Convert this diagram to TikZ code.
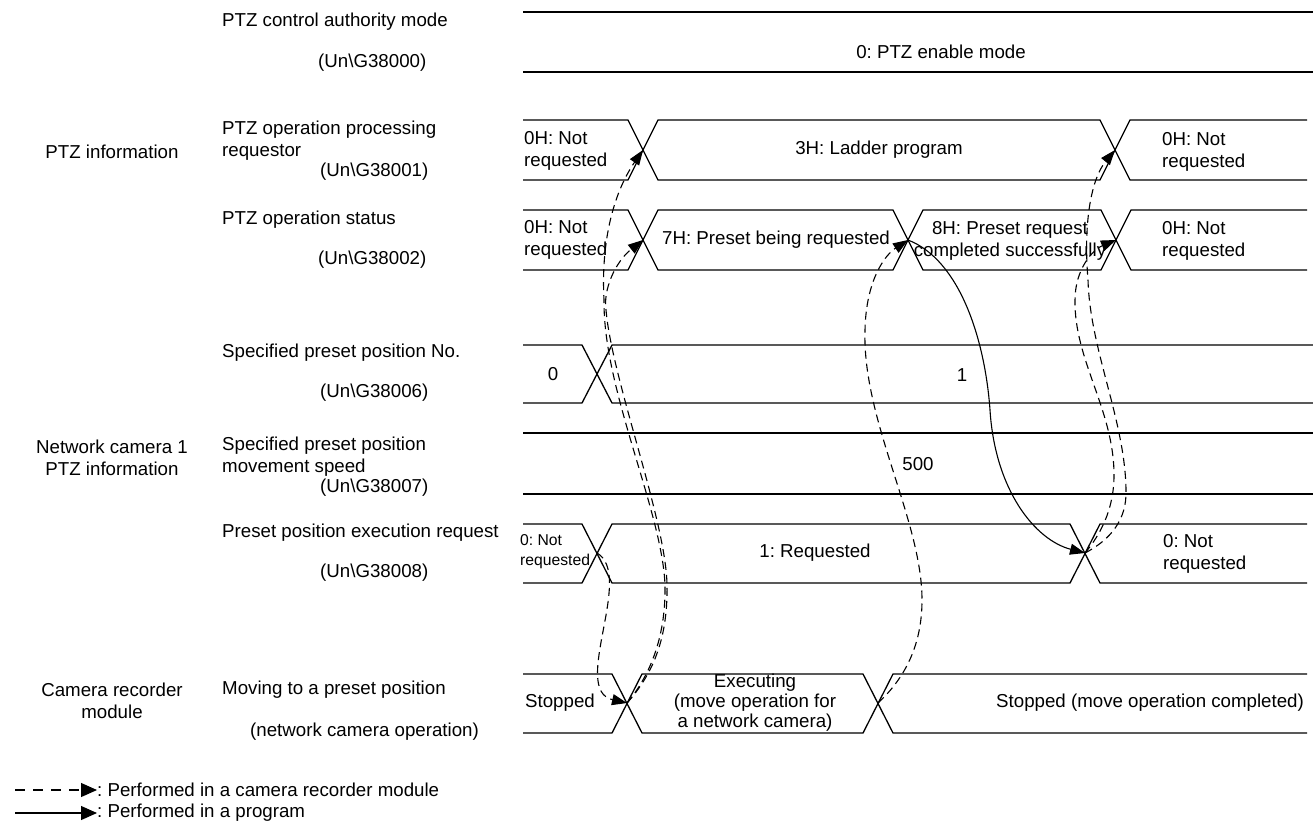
\documentclass[tikz,border=0pt]{standalone}
\usepackage{fontspec}
\setmainfont{Liberation Sans}
\usetikzlibrary{arrows.meta}

\newcommand{\sigfont}{\fontsize{18.7}{22}\selectfont}
\frenchspacing

\begin{document}
\begin{tikzpicture}[x=1pt,y=-1pt,
  bus/.style={line width=1.3pt},
  cam/.style={line width=1.1pt,dash pattern=on 8pt off 5pt,-{Triangle[length=15pt,width=11pt]}},
  prg/.style={line width=1.1pt,-{Triangle[length=15pt,width=11pt]}},
  lbl/.style={anchor=west,inner sep=0pt,align=left,font=\sigfont},
  grp/.style={inner sep=0pt,align=center,font=\sigfont},
  val/.style={inner sep=0pt,align=center,font=\sigfont},
  lval/.style={anchor=west,inner sep=0pt,align=left,font=\sigfont}
]
  \useasboundingbox (0,0) rectangle (1313,828);

  % group labels
  \node[grp] (gptz) at (112,152) {PTZ information};
  \node[grp] (gcam) at (112,458) {Network camera 1\\PTZ information};
  \node[grp] (grec) at (112,701) {Camera recorder\\module};

  % signal names
  \node[lbl] (n0) at (222,22) {PTZ control authority mode};
  \node[lbl] (d0) at (318,63) {(Un\textbackslash G38000)};
  \node[lbl] (n1) at (222,141) {PTZ operation processing\\requestor};
  \node[lbl] (d1) at (320,172) {(Un\textbackslash G38001)};
  \node[lbl] (n2) at (222,220) {PTZ operation status};
  \node[lbl] (d2) at (318,260) {(Un\textbackslash G38002)};
  \node[lbl] (n3) at (222,353) {Specified preset position No.};
  \node[lbl] (d3) at (320,393) {(Un\textbackslash G38006)};
  \node[lbl] (n4) at (222,457) {Specified preset position\\movement speed};
  \node[lbl] (d4) at (320,488) {(Un\textbackslash G38007)};
  \node[lbl] (n5) at (222,533) {Preset position execution request};
  \node[lbl] (d5) at (320,573) {(Un\textbackslash G38008)};
  \node[lbl] (n6) at (222,690) {Moving to a preset position};
  \node[lbl] (d6) at (250,732) {(network camera operation)};

  % crossing points
  \coordinate (x1a) at (643,150);
  \coordinate (x1b) at (1115,150);
  \coordinate (x2a) at (643,240);
  \coordinate (x2b) at (908,240);
  \coordinate (x2c) at (1116,240);
  \coordinate (x5a) at (597,553);
  \coordinate (x5b) at (1085,553);
  \coordinate (x6a) at (627,703);
  \coordinate (x6b) at (878,703);

  % control authority mode
  \draw[bus] (523,12) -- (1313,12);
  \draw[bus] (523,72) -- (1313,72);
  \node[val] (v0) at (941,52) {0: PTZ enable mode};

  % processing requestor
  \draw[bus] (523,120) -- (628,120) -- (658,180) -- (1100,180) -- (1130,120) -- (1307,120);
  \draw[bus] (523,180) -- (628,180) -- (658,120) -- (1100,120) -- (1130,180) -- (1307,180);
  \node[lval] (v1a) at (524,151) {0H: Not\\requested};
  \node[val] (v1b) at (879,150) {3H: Ladder program};
  \node[lval] (v1c) at (1162,152) {0H: Not\\requested};

  % operation status
  \draw[bus] (523,210) -- (628,210) -- (658,270) -- (893,270) -- (923,210) -- (1101,210) -- (1131,270) -- (1307,270);
  \draw[bus] (523,270) -- (628,270) -- (658,210) -- (893,210) -- (923,270) -- (1101,270) -- (1131,210) -- (1307,210);
  \node[lval] (v2a) at (524,240) {0H: Not\\requested};
  \node[lval] (v2b) at (662,240) {7H: Preset being requested};
  \node[val] (v2c) at (1010,241) {8H: Preset request\\completed successfully};
  \node[lval] (v2d) at (1162,241) {0H: Not\\requested};

  % preset position No.
  \draw[bus] (523,345) -- (582,345) -- (612,403) -- (1313,403);
  \draw[bus] (523,403) -- (582,403) -- (612,345) -- (1313,345);
  \node[val] (v3a) at (553,374) {0};
  \node[val] (v3b) at (962,375) {1};

  % movement speed
  \draw[bus] (523,433) -- (1313,433);
  \draw[bus] (523,494) -- (1313,494);
  \node[val] (v4) at (918,464) {500};

  % execution request
  \draw[bus] (523,524) -- (582,524) -- (612,583) -- (1070,583) -- (1100,524) -- (1307,524);
  \draw[bus] (523,583) -- (582,583) -- (612,524) -- (1070,524) -- (1100,583) -- (1307,583);
  \node[lval,font=\fontsize{15.7}{20}\selectfont] (v5a) at (520,552) {0: Not\\requested};
  \node[val] (v5b) at (815,553) {1: Requested};
  \node[lval] (v5c) at (1163,554) {0: Not\\requested};

  % camera operation
  \draw[bus] (523,674) -- (612,674) -- (642,733) -- (863,733) -- (893,674) -- (1307,674);
  \draw[bus] (523,733) -- (612,733) -- (642,674) -- (863,674) -- (893,733) -- (1307,733);
  \node[val] (v6a) at (560,703) {Stopped};
  \node[val,font=\fontsize{18.7}{20}\selectfont] (v6b) at (755,703) {Executing\\(move operation for\\a network camera)};
  \node[lval] (v6c) at (996,703) {Stopped (move operation completed)};

  % sequence
  \draw[cam] (x5a) .. controls (635,575) and (570,690) .. (x6a);
  \draw[cam] (x6a) .. controls (648,678) and (666,640) .. (665,585)
    .. controls (662,510) and (603,390) .. (604,300)
    .. controls (601,245) and (612,195) .. (x1a);
  \draw[cam] (x6a) .. controls (652,675) and (668,640) .. (667,585)
    .. controls (666,520) and (612,380) .. (606,310)
    .. controls (603,290) and (615,262) .. (x2a);
  \draw[cam] (x6b) .. controls (905,678) and (922,645) .. (922,600)
    .. controls (922,520) and (862,420) .. (865,330)
    .. controls (866,280) and (885,255) .. (x2b);
  \draw[prg] (x2b) .. controls (960,260) and (985,340) .. (990,410)
    .. controls (995,490) and (1035,540) .. (x5b);
  \draw[cam] (x5b) .. controls (1110,540) and (1127,520) .. (1126,490)
    .. controls (1125,420) and (1090,350) .. (1088,280)
    .. controls (1083,220) and (1092,178) .. (x1b);
  \draw[cam] (x5b) .. controls (1100,535) and (1114,510) .. (1114,475)
    .. controls (1114,410) and (1074,360) .. (1075,300)
    .. controls (1075,270) and (1092,250) .. (x2c);

  % legend
  \coordinate (k1s) at (15,790);
  \coordinate (k1e) at (97,790);
  \coordinate (k2s) at (15,813);
  \coordinate (k2e) at (97,813);
  \draw[cam,dash pattern=on 10pt off 8pt,-{Triangle[length=16pt,width=14pt]}] (k1s) -- (k1e);
  \draw[prg,-{Triangle[length=16pt,width=14pt]}] (k2s) -- (k2e);
  \node[lval] (k1) at (97,790) {: Performed in a camera recorder module};
  \node[lval] (k2) at (97,813) {: Performed in a program};
\end{tikzpicture}
\end{document}
